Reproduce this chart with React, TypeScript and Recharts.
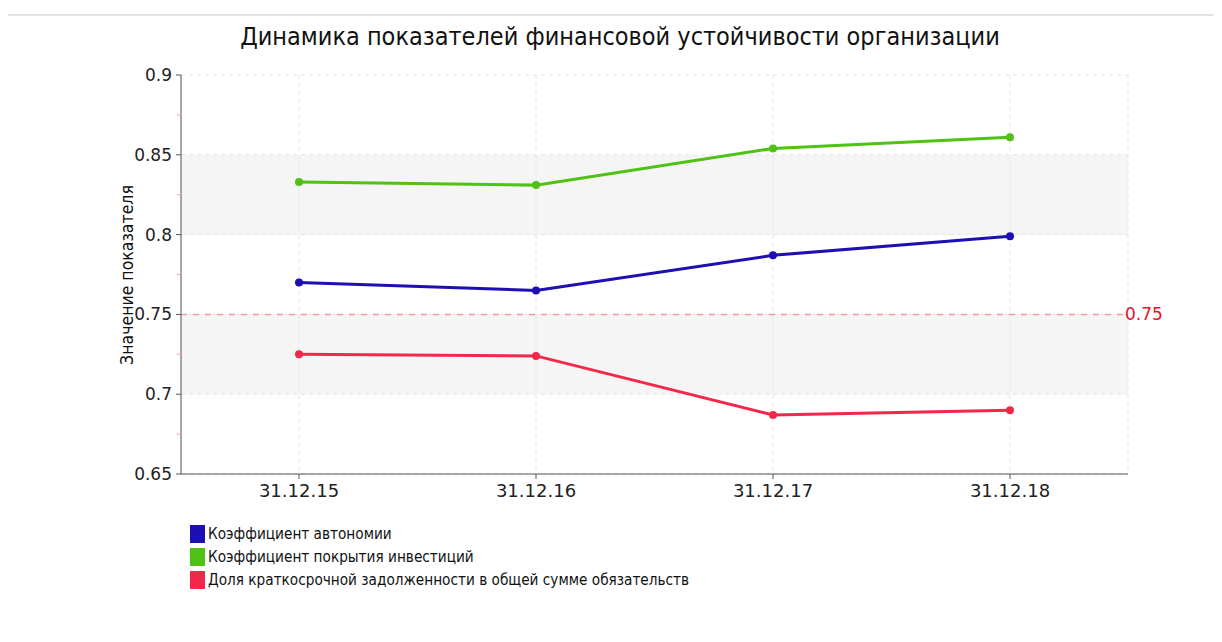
import React from "react";
import {
  LineChart,
  Line,
  XAxis,
  YAxis,
  CartesianGrid,
  ReferenceLine,
} from "recharts";

const TITLE = "Динамика показателей финансовой устойчивости организации";
const Y_LABEL = "Значение показателя";

const categories = ["31.12.15", "31.12.16", "31.12.17", "31.12.18"];
const autonomy = [0.77, 0.765, 0.787, 0.799];
const investCoverage = [0.833, 0.831, 0.854, 0.861];
const shortTermShare = [0.725, 0.724, 0.687, 0.69];

const seriesNames = [
  "Коэффициент автономии",
  "Коэффициент покрытия инвестиций",
  "Доля краткосрочной задолженности в общей сумме обязательств",
];
const seriesKeys = ["a", "b", "c"];
const seriesColors = ["#1c10b2", "#4fc214", "#f2284a"];

const majorTicks = [0.65, 0.7, 0.75, 0.8, 0.85, 0.9];
const minorTicks = [0.675, 0.725, 0.775, 0.825, 0.875];
const allTicks = [...majorTicks, ...minorTicks].sort((x, y) => x - y);
const stripeColors = ["#ffffff", "#f5f5f5"];
const threshold = 0.75;

const data = categories.map((c, i) => ({
  name: c,
  a: autonomy[i],
  b: investCoverage[i],
  c: shortTermShare[i],
}));

const FONT = "'DejaVu Sans', Verdana, sans-serif";
const FONT_C = "'DejaVu Sans Condensed', 'DejaVu Sans', sans-serif";

const YTick = (props: any) => {
  const { x, y, payload } = props;
  const v = payload.value;
  const isMinor = minorTicks.some((m) => Math.abs(m - v) < 1e-9);
  const axisX = x + 8;
  if (isMinor) {
    return (
      <line x1={axisX - 4} x2={axisX} y1={y} y2={y} stroke="#f2a0a8" strokeWidth={1} />
    );
  }
  return (
    <g>
      <line x1={axisX - 5} x2={axisX} y1={y} y2={y} stroke="#555" strokeWidth={1} />
      <text
        x={x - 1}
        y={y}
        dy={6}
        textAnchor="end"
        fill="#222"
        fontSize={17}
        fontFamily={FONT}
      >
        {String(v)}
      </text>
    </g>
  );
};

export default function App() {
  return (
    <div
      style={{
        position: "relative",
        width: 1222,
        height: 642,
        margin: -8,
        background: "#fff",
        overflow: "hidden",
      }}
    >
      <div
        style={{
          position: "absolute",
          left: 4,
          top: 14,
          width: 1240,
          height: 700,
          borderTop: "2px solid #e2e2e2",
          borderLeft: "1px solid #e6e6e6",
          boxSizing: "border-box",
        }}
      />
      <div
        style={{
          position: "absolute",
          left: 0,
          width: 1240,
          top: 22,
          textAlign: "center",
          fontFamily: FONT_C,
          fontSize: 25,
          color: "#111",
        }}
      >
        {TITLE}
      </div>
      <div style={{ position: "absolute", left: 0, top: 0 }}>
        <LineChart
          width={1222}
          height={642}
          data={data}
          margin={{ top: 75, right: 94, left: 121, bottom: 138 }}
        >
          <CartesianGrid
            stroke="#e4e4e4"
            strokeDasharray="4 4"
            horizontalValues={majorTicks}
            horizontalFill={stripeColors}
            fillOpacity={1}
          />
          <XAxis
            dataKey="name"
            padding={{ left: 118, right: 118 }}
            stroke="#555"
            tickSize={5}
            tick={{ fill: "#222", fontSize: 18, fontFamily: FONT, dy: 3 }}
            height={30}
          />
          <YAxis
            domain={[0.65, 0.9]}
            ticks={allTicks}
            interval={0}
            width={60}
            stroke="#555"
            tickLine={false}
            tickSize={5}
            tickMargin={3}
            tick={<YTick />}
            allowDataOverflow
          />
          <ReferenceLine
            y={threshold}
            stroke="#f09aa0"
            strokeDasharray="6 6"
            strokeWidth={1.5}
            label={{
              value: String(threshold),
              position: "right",
              offset: -3,
              fill: "#e8102c",
              fontSize: 17,
              fontFamily: FONT,
            }}
          />
          {seriesKeys.map((k, i) => (
            <Line
              key={k}
              dataKey={k}
              name={seriesNames[i]}
              stroke={seriesColors[i]}
              strokeWidth={3}
              dot={{ r: 4, fill: seriesColors[i], stroke: seriesColors[i], strokeWidth: 0 }}
              isAnimationActive={false}
            />
          ))}
        </LineChart>
      </div>
      <svg
        style={{ position: "absolute", left: 0, top: 0 }}
        width={160}
        height={480}
      >
        <text
          x={133}
          y={275}
          transform="rotate(-90 133 275)"
          textAnchor="middle"
          fontSize={17.5}
          fontFamily={FONT_C}
          fill="#111"
        >
          {Y_LABEL}
        </text>
      </svg>
      <div
        style={{
          position: "absolute",
          left: 190,
          top: 522,
          fontFamily: FONT_C,
          fontSize: 15.2,
          color: "#111",
        }}
      >
        {seriesNames.map((n, i) => (
          <div
            key={n}
            style={{ display: "flex", alignItems: "center", height: 23 }}
          >
            <span
              style={{
                display: "inline-block",
                width: 15,
                height: 18,
                background: seriesColors[i],
                marginRight: 3,
              }}
            />
            {n}
          </div>
        ))}
      </div>
    </div>
  );
}
